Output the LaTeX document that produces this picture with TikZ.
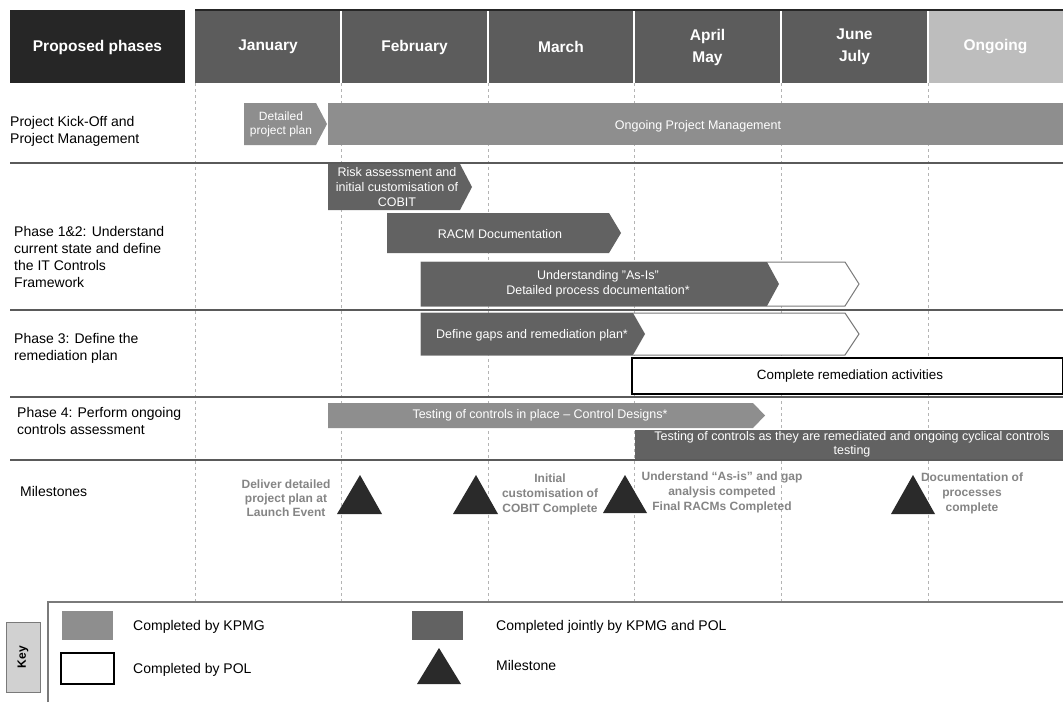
\documentclass[tikz,border=0pt]{standalone}
\usepackage{fontspec}
\setmainfont{Liberation Sans}
\definecolor{hdrdark}{HTML}{262626}
\definecolor{hdrmonth}{HTML}{5C5C5C}
\definecolor{hdrongo}{HTML}{BDBDBD}
\definecolor{kpmg}{HTML}{8E8E8E}
\definecolor{joint}{HTML}{626262}
\definecolor{tri}{HTML}{2A2A2A}
\definecolor{mscol}{HTML}{858585}
\definecolor{sepcol}{HTML}{5A5A5A}
\definecolor{gridcol}{HTML}{B4B4B4}
\definecolor{polline}{HTML}{7A7A7A}
\tikzset{
  hdr/.style={text=white, font=\fontsize{15.5}{22}\selectfont\bfseries, align=center, inner sep=0pt},
  rowlbl/.style={anchor=west, align=left, font=\fontsize{14}{17}\selectfont, inner sep=0pt},
  bartxt/.style={text=white, align=center, font=\fontsize{12.5}{15}\selectfont, inner sep=0pt},
  mstxt/.style={text=mscol, align=center, font=\fontsize{12}{15}\selectfont\bfseries, inner sep=0pt},
  keytxt/.style={anchor=west, font=\fontsize{14}{16}\selectfont, inner sep=0pt},
  kpmgfill/.style={fill=kpmg},
  jointfill/.style={fill=joint},
  polshape/.style={fill=white, draw=polline, line width=1pt},
  sepline/.style={draw=sepcol, line width=1.3pt},
  gridline/.style={draw=gridcol, line width=0.7pt, dash pattern=on 3pt off 3pt},
  milestone/.style={fill=tri}
}
\begin{document}
\begin{tikzpicture}[x=1pt,y=-1pt]
\useasboundingbox (0,0) rectangle (1063,702);
\fill[white] (0,0) rectangle (1063,702);

% vertical grid lines
\foreach \gx in {195,341,488,634,781,928}
  \draw[gridline] (\gx,83) -- (\gx,601);

% header
\fill[hdrdark] (10,10) rectangle (185,83);
\fill[hdrmonth] (195,10) rectangle (928,83);
\fill[hdrongo] (928,10) rectangle (1063,83);
\draw[hdrdark, line width=2pt] (195,10) -- (1063,10);
\foreach \gx in {341,488,634,781,928}
  \draw[white, line width=1.5pt] (\gx,11) -- (\gx,83);
\node[hdr] (hphase) at (97.5,47) {Proposed phases};
\node[hdr] (hjan) at (268,47) {January};
\node[hdr] (hfeb) at (414.5,47) {February};
\node[hdr] (hmar) at (561,47) {March};
\node[hdr] (hapr) at (707.5,47) {April\\May};
\node[hdr] (hjun) at (854.5,47) {June\\July};
\node[hdr] (hong) at (995.5,47) {Ongoing};

% row separators
\foreach \sy in {163,310,397,460}
  \draw[sepline] (10,\sy) -- (1063,\sy);

% row labels
\node[rowlbl] (l1) at (10,131) {Project Kick-Off and\\Project Management};
\node[rowlbl] (l2) at (14,257) {Phase 1\&2: Understand\\current state and define\\the IT Controls\\Framework};
\node[rowlbl] (l3) at (14,348.5) {Phase 3: Define the\\remediation plan};
\node[rowlbl] (l4) at (17,421) {Phase 4: Perform ongoing\\controls assessment};
\node[rowlbl] (l5) at (20,491) {Milestones};

% row 1
\fill[kpmgfill] (244,103) -- (316,103) -- (327,124) -- (316,145) -- (244,145) -- cycle;
\node[bartxt, font=\fontsize{12}{14}\selectfont] (t1) at (281,124) {Detailed\\project plan};
\fill[kpmgfill] (328,103) rectangle (1063,145);
\node[bartxt] (t2) at (698,126) {Ongoing Project Management};

% row 2
\fill[jointfill] (328,164) -- (460,164) -- (472,187) -- (460,210) -- (328,210) -- cycle;
\node[bartxt] (t3) at (397,187) {Risk assessment and\\initial customisation of\\COBIT};
\fill[jointfill] (387,213) -- (609,213) -- (621,233) -- (609,253) -- (387,253) -- cycle;
\node[bartxt] (t4) at (500,234) {RACM Documentation};
\draw[polshape] (421,262) -- (845,262) -- (859,284) -- (845,306) -- (421,306) -- cycle;
\fill[jointfill] (421,262) -- (767,262) -- (779,284) -- (767,306) -- (421,306) -- cycle;
\node[bartxt] (t5) at (598,284) {Understanding "As-Is"\\Detailed process documentation*};

% row 3
\draw[polshape] (421,313) -- (845,313) -- (859,334) -- (845,355) -- (421,355) -- cycle;
\fill[jointfill] (421,313) -- (633,313) -- (645,334) -- (633,355) -- (421,355) -- cycle;
\node[bartxt] (t6) at (532,335) {Define gaps and remediation plan*};
\draw[fill=white, draw=black, line width=2pt] (632,358) rectangle (1063,394);
\node[inner sep=0pt, font=\fontsize{13.4}{16}\selectfont] (t7) at (850,376) {Complete remediation activities};

% row 4
\fill[kpmgfill] (328,403) -- (753,403) -- (765,415.5) -- (753,428) -- (328,428) -- cycle;
\node[bartxt] (t8) at (540,415) {Testing of controls in place -- Control Designs*};
\fill[jointfill] (635,430) rectangle (1063,459);
\node[bartxt, font=\fontsize{12.5}{14.5}\selectfont] (t9) at (852,444.5) {Testing of controls as they are remediated and ongoing cyclical controls\\testing};

% milestones
\fill[milestone] (360,475) -- (382,514) -- (337,514) -- cycle;
\fill[milestone] (476,475) -- (498,514) -- (453,514) -- cycle;
\fill[milestone] (625,475) -- (647,513) -- (603,513) -- cycle;
\fill[milestone] (913,475) -- (935,514) -- (891,514) -- cycle;
\node[mstxt, font=\fontsize{12}{14}\selectfont\bfseries] (m1) at (286,498) {Deliver detailed\\project plan at\\Launch Event};
\node[mstxt] (m2) at (550,494) {Initial\\customisation of\\COBIT Complete};
\node[mstxt] (m3) at (722,492.5) {Understand “As-is” and gap\\analysis competed\\Final RACMs Completed};
\node[mstxt] (m4) at (972,493) {Documentation of\\processes\\complete};

% key
\draw[draw=polline, line width=2pt] (48,702) -- (48,602) -- (1063,602);
\draw[fill=hdrongo!70, draw=polline, line width=1pt] (6,622) rectangle (40,692);
\node[rotate=90, inner sep=0pt, font=\fontsize{12}{14}\selectfont\bfseries] (key) at (23,657) {Key};
\fill[kpmgfill] (62,611) rectangle (113,640);
\node[keytxt] (k1) at (133,627) {Completed by KPMG};
\draw[fill=white, draw=black, line width=1.2pt] (61,653) rectangle (114,684);
\node[keytxt] (k2) at (133,670) {Completed by POL};
\fill[jointfill] (412,611) rectangle (463,640);
\node[keytxt] (k3) at (496,627) {Completed jointly by KPMG and POL};
\fill[milestone] (439,648) -- (461,684) -- (417,684) -- cycle;
\node[keytxt] (k4) at (496,665) {Milestone};
\end{tikzpicture}
\end{document}
